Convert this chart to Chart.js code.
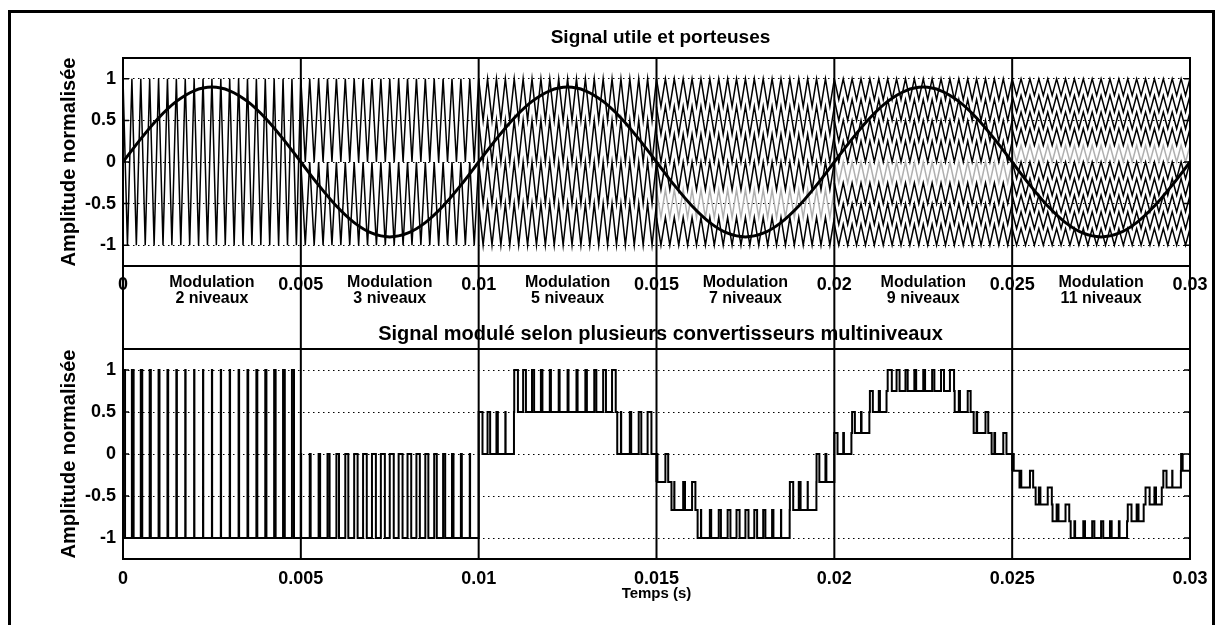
<!DOCTYPE html>
<html>
<head>
<meta charset="utf-8">
<script src="https://cdn.jsdelivr.net/npm/chart.js@4.4.0/dist/chart.umd.min.js"></script>
<style>
  html, body { margin: 0; padding: 0; background: #fff; }
  #fig { position: relative; width: 1224px; height: 625px; overflow: hidden; background: #fff; }
  #frame { position: absolute; left: 8px; top: 10px; width: 1207px; height: 640px; border: 3px solid #000; box-sizing: border-box; }
  canvas { position: absolute; left: 0; top: 0; }
</style>
</head>
<body>
<div id="fig">
  <div id="frame"></div>
  <canvas id="topCanvas" width="1224" height="625"></canvas>
  <canvas id="botCanvas" width="1224" height="625"></canvas>
</div>
<script>
// Axes
const xTicks = [0, 0.005, 0.01, 0.015, 0.02, 0.025, 0.03];
const xTickLabels = ["0", "0.005", "0.01", "0.015", "0.02", "0.025", "0.03"];
const yTicks = [-1, -0.5, 0, 0.5, 1];
const yTickLabels = ["-1", "-0.5", "0", "0.5", "1"];

// Signal utile (pas de 0.0005 s)
const sineStep = 0.0005;
const sineValues = [
  0, 0.278, 0.529, 0.728, 0.856, 0.9, 0.856, 0.728, 0.529, 0.278,
  0, -0.278, -0.529, -0.728, -0.856, -0.9, -0.856, -0.728, -0.529, -0.278,
  0, 0.278, 0.529, 0.728, 0.856, 0.9, 0.856, 0.728, 0.529, 0.278,
  0, -0.278, -0.529, -0.728, -0.856, -0.9, -0.856, -0.728, -0.529, -0.278,
  0, 0.278, 0.529, 0.728, 0.856, 0.9, 0.856, 0.728, 0.529, 0.278,
  0, -0.278, -0.529, -0.728, -0.856, -0.9, -0.856, -0.728, -0.529, -0.278,
  0
];

// Segments et porteuses
const segStarts = [0, 0.005, 0.01, 0.015, 0.02, 0.025];
const segNames = ["2 niveaux", "3 niveaux", "5 niveaux", "7 niveaux", "9 niveaux", "11 niveaux"];
const carrierPeriod = 0.00025;
const carrierLevels = [
  [-1, 1],
  [-1, 0, 1],
  [-1, -0.5, 0, 0.5, 1],
  [-1, -0.667, -0.333, 0, 0.333, 0.667, 1],
  [-1, -0.75, -0.5, -0.25, 0, 0.25, 0.5, 0.75, 1],
  [-1, -0.8, -0.6, -0.4, -0.2, 0, 0.2, 0.4, 0.6, 0.8, 1]
];

// Signal module : niveau bas et rapport cyclique par periode de porteuse
const pwmLow = [
  [-1, -1, -1, -1, -1, -1, -1, -1, -1, -1, -1, -1, -1, -1, -1, -1, -1, -1, -1, -1],
  [-1, -1, -1, -1, -1, -1, -1, -1, -1, -1, -1, -1, -1, -1, -1, -1, -1, -1, -1, -1],
  [0, 0, 0, 0, 0.5, 0.5, 0.5, 0.5, 0.5, 0.5, 0.5, 0.5, 0.5, 0.5, 0.5, 0.5, 0, 0, 0, 0],
  [-0.333, -0.333, -0.667, -0.667, -0.667, -1, -1, -1, -1, -1, -1, -1, -1, -1, -1, -0.667, -0.667, -0.667, -0.333, -0.333],
  [0, 0, 0.25, 0.25, 0.5, 0.5, 0.75, 0.75, 0.75, 0.75, 0.75, 0.75, 0.75, 0.75, 0.5, 0.5, 0.25, 0.25, 0, 0],
  [-0.2, -0.4, -0.4, -0.6, -0.6, -0.8, -0.8, -1, -1, -1, -1, -1, -1, -0.8, -0.8, -0.6, -0.6, -0.4, -0.4, -0.2]
];
const pwmDuty = [
  [0.54, 0.61, 0.67, 0.74, 0.79, 0.84, 0.88, 0.92, 0.94, 0.95, 0.95, 0.94, 0.92, 0.88, 0.84, 0.79, 0.74, 0.67, 0.61, 0.54],
  [0.93, 0.79, 0.66, 0.53, 0.42, 0.32, 0.23, 0.17, 0.12, 0.10, 0.10, 0.12, 0.17, 0.23, 0.32, 0.42, 0.53, 0.66, 0.79, 0.93],
  [0.14, 0.42, 0.69, 0.94, 0.17, 0.37, 0.53, 0.66, 0.75, 0.79, 0.79, 0.75, 0.66, 0.53, 0.37, 0.17, 0.94, 0.69, 0.42, 0.14],
  [0.79, 0.37, 0.97, 0.59, 0.25, 0.95, 0.70, 0.51, 0.37, 0.31, 0.31, 0.37, 0.51, 0.70, 0.95, 0.25, 0.59, 0.97, 0.37, 0.79],
  [0.28, 0.84, 0.38, 0.88, 0.34, 0.74, 0.07, 0.33, 0.50, 0.59, 0.59, 0.50, 0.33, 0.07, 0.74, 0.34, 0.88, 0.38, 0.84, 0.28],
  [0.65, 0.95, 0.28, 0.65, 0.08, 0.58, 0.16, 0.84, 0.62, 0.51, 0.51, 0.62, 0.84, 0.16, 0.58, 0.08, 0.65, 0.28, 0.95, 0.65]
];

const FONT = '"Liberation Sans", Arial, Helvetica, sans-serif';
Chart.defaults.font.family = FONT;
Chart.defaults.color = "#000";

// bande de porteuse plus claire (niveau bas) par segment
const lightBand = { 3: -0.667, 4: -0.25, 5: 0 };

function buildCarrier(seg, lo, hi) {
  const pts = [];
  const n = Math.round(0.005 / (carrierPeriod / 2));
  for (let i = 0; i <= n; i++) {
    pts.push({ x: segStarts[seg] + i * carrierPeriod / 2, y: i % 2 ? lo : hi });
  }
  return pts;
}

function buildPwm() {
  const pts = [];
  segStarts.forEach((start, s) => {
    const lv = carrierLevels[s];
    const h = lv[1] - lv[0];
    const lows = pwmLow[s];
    for (let k = 0; k < lows.length; k++) {
      const t0 = start + k * carrierPeriod;
      const d = pwmDuty[s][k];
      pts.push({ x: t0, y: lows[k] });
      pts.push({ x: t0 + carrierPeriod * (1 - d) / 2, y: lows[k] + h });
      pts.push({ x: t0 + carrierPeriod * (1 + d) / 2, y: lows[k] });
    }
    pts.push({ x: start + lows.length * carrierPeriod, y: lows[lows.length - 1] });
  });
  return pts;
}

const sinePoints = sineValues.map((v, i) => ({ x: i * sineStep, y: v }));

const topDatasets = [{
  data: sinePoints,
  borderColor: "#000",
  borderWidth: 3,
  pointRadius: 0,
  cubicInterpolationMode: "monotone",
}];
carrierLevels.forEach((lv, s) => {
  for (let j = 0; j < lv.length - 1; j++) {
    const light = lightBand[s] !== undefined && Math.abs(lightBand[s] - lv[j]) < 0.01;
    topDatasets.push({
      data: buildCarrier(s, lv[j], lv[j + 1]),
      borderColor: light ? "#b0b0b0" : "#000",
      borderWidth: 1.5,
      pointRadius: 0,
      tension: 0,
    });
  }
});

function xScale(height, pad, title) {
  return {
    type: "linear",
    min: 0,
    max: 0.03,
    afterBuildTicks: (s) => { s.ticks = xTicks.map((v) => ({ value: v })); },
    afterFit: (s) => { s.height = height; },
    grid: { display: false },
    border: { display: false },
    ticks: {
      padding: pad,
      maxRotation: 0,
      autoSkip: false,
      font: { size: 18, weight: "bold" },
      callback: (v) => xTickLabels[xTicks.indexOf(v)],
    },
    title: title,
  };
}

function yScale() {
  return {
    min: -1.25,
    max: 1.25,
    afterBuildTicks: (s) => { s.ticks = yTicks.map((v) => ({ value: v })); },
    afterFit: (s) => { s.width = 69; },
    grid: { color: "#000", lineWidth: 1, drawTicks: false },
    border: { display: false, dash: [1.5, 3.5] },
    ticks: {
      padding: 7,
      font: { size: 18, weight: "bold" },
      callback: (v) => yTickLabels[yTicks.indexOf(v)],
    },
    title: {
      display: true,
      text: "Amplitude normalisée",
      font: { size: 20, weight: "bold" },
      padding: { top: 3, bottom: 3 },
    },
  };
}

function drawBox(chart) {
  const { ctx, chartArea: a } = chart;
  const y = chart.scales.y;
  ctx.save();
  ctx.strokeStyle = "#000";
  ctx.lineWidth = 2;
  ctx.strokeRect(a.left, a.top, a.right - a.left, a.bottom - a.top);
  ctx.lineWidth = 1.5;
  yTicks.forEach((v) => {
    const py = y.getPixelForValue(v);
    ctx.beginPath();
    ctx.moveTo(a.left, py); ctx.lineTo(a.left + 6, py);
    ctx.moveTo(a.right - 6, py); ctx.lineTo(a.right, py);
    ctx.stroke();
  });
  ctx.restore();
}

function drawTitle(chart, text, dy, size) {
  const { ctx, chartArea: a } = chart;
  ctx.save();
  ctx.fillStyle = "#000";
  ctx.font = "bold " + size + "px " + FONT;
  ctx.textAlign = "center";
  ctx.textBaseline = "middle";
  ctx.fillText(text, (a.left + a.right) / 2 + 4, a.top - dy);
  ctx.restore();
}

const topChart = new Chart(document.getElementById("topCanvas"), {
  type: "line",
  data: { datasets: topDatasets },
  options: {
    responsive: false,
    animation: false,
    parsing: false,
    normalized: true,
    layout: { padding: { left: 54, right: 34, top: 58, bottom: 329 } },
    plugins: { legend: { display: false }, tooltip: { enabled: false } },
    scales: { x: xScale(30, 0, { display: false }), y: yScale() },
  },
  plugins: [{
    id: "topDecor",
    afterDraw: (chart) => {
      drawBox(chart);
      drawTitle(chart, "Signal utile et porteuses", 20, 19);
    },
  }],
});

const botChart = new Chart(document.getElementById("botCanvas"), {
  type: "line",
  data: {
    datasets: [{
      data: buildPwm(),
      stepped: "after",
      borderColor: "#000",
      borderWidth: 2,
      pointRadius: 0,
    }],
  },
  options: {
    responsive: false,
    animation: false,
    parsing: false,
    layout: { padding: { left: 54, right: 34, top: 349, bottom: 16 } },
    plugins: { legend: { display: false }, tooltip: { enabled: false } },
    scales: {
      x: xScale(50, 1, {
        display: true,
        text: "Temps (s)",
        font: { size: 15, weight: "bold" },
        padding: { top: 0, bottom: 6 },
      }),
      y: yScale(),
    },
  },
  plugins: [{
    id: "botDecor",
    afterDraw: (chart) => {
      const { ctx, chartArea: a } = chart;
      const x = chart.scales.x;
      const topArea = topChart.chartArea;
      drawBox(chart);
      drawTitle(chart, "Signal modulé selon plusieurs convertisseurs multiniveaux", 15, 20);
      ctx.save();
      ctx.strokeStyle = "#000";
      ctx.lineWidth = 2;
      xTicks.forEach((v) => {
        const px = x.getPixelForValue(v);
        ctx.beginPath();
        ctx.moveTo(px, topArea.top);
        ctx.lineTo(px, a.bottom);
        ctx.stroke();
      });
      ctx.fillStyle = "#000";
      ctx.font = "bold 16px " + FONT;
      ctx.textAlign = "center";
      ctx.textBaseline = "middle";
      segStarts.forEach((s, i) => {
        const px = x.getPixelForValue(s + 0.0025);
        ctx.fillText("Modulation", px, topArea.bottom + 17);
        ctx.fillText(segNames[i], px, topArea.bottom + 33);
      });
      ctx.restore();
    },
  }],
});
</script>
</body>
</html>
